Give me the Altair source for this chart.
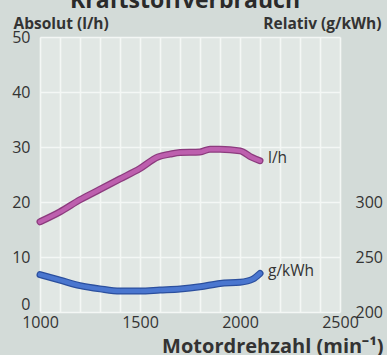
import altair as alt
import pandas as pd

# Kraftstoffverbrauch: absolute (l/h) and relative (g/kWh)
chart_title = ["Kraftstoffverbrauch"]

lh_rpm = [1000, 1100, 1200, 1300, 1400, 1500, 1590, 1650, 1700, 1800, 1850, 1900, 2000, 2060, 2100]
lh_val = [16.4, 18.2, 20.4, 22.3, 24.2, 26.1, 28.2, 28.7, 29.0, 29.1, 29.6, 29.6, 29.3, 28.1, 27.5]

gk_rpm = [1000, 1100, 1200, 1300, 1400, 1500, 1600, 1700, 1800, 1900, 2000, 2065, 2100]
gk_val = [234, 229, 224, 221, 219, 219, 220, 221, 223, 226, 227, 230, 235]

x_ticks = list(range(1000, 2600, 100))
left_ticks = [0, 10, 20, 30, 40, 50]
right_ticks = [200, 250, 300]

FONT = "Open Sans"
TXT = "#333333"

lh_df = pd.DataFrame({"rpm": lh_rpm, "v": lh_val})
gk_df = pd.DataFrame({"rpm": gk_rpm, "v": gk_val})
lh_lab = pd.DataFrame({"rpm": [lh_rpm[-1]], "v": [lh_val[-1]], "t": ["l/h"]})
gk_lab = pd.DataFrame({"rpm": [gk_rpm[-1]], "v": [gk_val[-1]], "t": ["g/kWh"]})
title_df = pd.DataFrame({"t": chart_title})

x_enc = alt.X(
    "rpm:Q",
    scale=alt.Scale(domain=[1000, 2500], nice=False),
    axis=alt.Axis(
        values=x_ticks,
        labelExpr="datum.value % 500 === 0 ? datum.label : ''",
        format="d",
        ticks=False,
        tickSize=0,
        domain=False,
        grid=True,
        gridColor="#f4f7f5",
        gridWidth=1.6,
        labelFlush=False,
        labelPadding=2,
        labelFontSize=16,
        labelFont=FONT,
        labelColor=TXT,
        title="Motordrehzahl (min⁻¹)",
        titleFont=FONT,
        titleFontSize=20,
        titleFontWeight="bold",
        titleColor=TXT,
        titleAlign="right",
        titleAnchor="end",
        titleX=343,
        titleY=40,
        titleBaseline="alphabetic",
    ),
)

left_axis = alt.Axis(
    values=left_ticks,
    ticks=False,
    tickSize=0,
    domain=False,
    grid=True,
    gridColor="#f4f7f5",
    gridWidth=1.6,
    labelPadding=10,
    labelFontSize=16,
    labelFont=FONT,
    labelColor=TXT,
    labelBaseline={"expr": "datum.value === 0 ? 'bottom' : 'middle'"},
    title="Absolut (l/h)",
    titleFont=FONT,
    titleFontSize=15.5,
    titleFontWeight="bold",
    titleColor=TXT,
    titleAngle=0,
    titleAlign="left",
    titleX=-27,
    titleY=-9,
    titleBaseline="alphabetic",
)

right_axis = alt.Axis(
    orient="right",
    values=right_ticks,
    ticks=False,
    tickSize=0,
    domain=False,
    grid=False,
    labelPadding=15,
    labelFontSize=16,
    labelFont=FONT,
    labelColor=TXT,
    title="Relativ (g/kWh)",
    titleFont=FONT,
    titleFontSize=15.5,
    titleFontWeight="bold",
    titleColor=TXT,
    titleAngle=0,
    titleAlign="right",
    titleX=41,
    titleY=-9,
    titleBaseline="alphabetic",
)

y_left = alt.Y("v:Q", scale=alt.Scale(domain=[0, 50], nice=False), axis=left_axis)
y_right = alt.Y("v:Q", scale=alt.Scale(domain=[200, 450], nice=False), axis=right_axis)

lh_base = alt.Chart(lh_df).encode(x=x_enc, y=y_left)
lh_layer = alt.layer(
    lh_base.mark_line(color="#8c3b7e", strokeWidth=7, strokeCap="round", interpolate="monotone"),
    lh_base.mark_line(color="#bd5fae", strokeWidth=4.5, strokeCap="round", interpolate="monotone"),
    alt.Chart(lh_lab).mark_text(align="left", baseline="middle", dx=8, dy=-3,
                                 font=FONT, fontSize=15.5, color=TXT).encode(x=x_enc, y=y_left, text="t:N"),
    alt.Chart(title_df).mark_text(align="center", baseline="alphabetic", font=FONT,
                                   fontSize=23, fontWeight="bold", color="#2a2a2a").encode(
        x=alt.value(145), y=alt.value(-29), text="t:N"),
)

gk_base = alt.Chart(gk_df).encode(x=x_enc, y=y_right)
gk_layer = alt.layer(
    gk_base.mark_line(color="#2b4f9e", strokeWidth=7, strokeCap="round", interpolate="monotone"),
    gk_base.mark_line(color="#4a76cf", strokeWidth=4.5, strokeCap="round", interpolate="monotone"),
    alt.Chart(gk_lab).mark_text(align="left", baseline="middle", dx=8, dy=-3,
                                 font=FONT, fontSize=15.5, color=TXT).encode(x=x_enc, y=y_right, text="t:N"),
)

chart = (
    alt.layer(lh_layer, gk_layer)
    .resolve_scale(y="independent")
    .properties(
        width=300,
        height=275,
        autosize=alt.AutoSizeParams(type="none"),
        padding={"left": 40, "top": 37, "right": 47, "bottom": 43},
        background="#d3dbd8",
    )
    .configure_view(fill="#e1e7e4", stroke=None)
)

chart.save("out.html", embed_options={"renderer": "svg", "actions": False})
